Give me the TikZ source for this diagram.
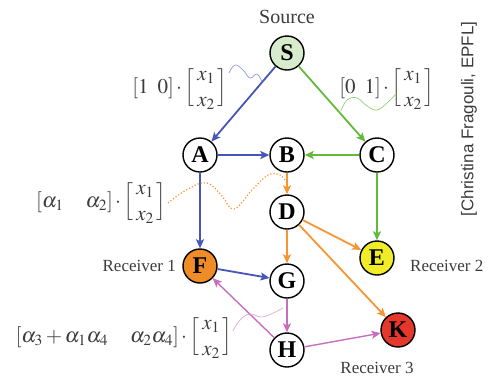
\documentclass[tikz,border=0pt]{standalone}
\usepackage{amsmath}
\usepackage{mathptmx}
\usepackage{fontspec}
\setmainfont{Liberation Serif}
\newfontfamily\sansf{Liberation Sans}
\usetikzlibrary{arrows.meta}
\definecolor{cblue}{RGB}{70,85,185}
\definecolor{cgreen}{RGB}{100,185,60}
\definecolor{corange}{RGB}{245,150,50}
\definecolor{cpink}{RGB}{200,110,190}
\definecolor{cfillS}{RGB}{214,236,204}
\definecolor{cfillF}{RGB}{240,140,40}
\definecolor{cfillE}{RGB}{240,236,40}
\definecolor{cfillK}{RGB}{230,55,45}
\definecolor{ctext}{RGB}{60,60,60}
\delimiterfactor=700
\delimitershortfall=20pt
\newcommand{\xvec}{{\left[\hspace{3pt}\begin{matrix}x_1\\ x_2\end{matrix}\hspace{3pt}\right]}}
\newcommand{\rowv}[1]{{\left[#1\right]}}
\newcommand{\dotop}{\mkern2mu{\cdot}\mkern2mu}
\begin{document}
\begin{tikzpicture}[x=1pt,y=-1pt]
\useasboundingbox (0,0) rectangle (488,376);
\tikzset{
 nd/.style={circle,draw=black,line width=1.4pt,minimum size=34pt,inner sep=0pt,font=\fontsize{24}{24}\selectfont\bfseries,fill=white},
 ed/.style={line width=1.8pt,-{Stealth[length=9pt,width=8pt,inset=2pt]}},
 edthin/.style={line width=1.4pt,-{Stealth[length=9pt,width=8pt,inset=2pt]}},
 lbl/.style={font=\fontsize{17}{17}\selectfont, text=ctext, inner sep=0pt},
 mat/.style={font=\fontsize{21}{26}\selectfont, text=ctext, inner sep=0pt},
 wave/.style={line width=0.7pt},
}
\node[nd,fill=cfillS] (S) at (287,53) {S};
\node[nd] (A) at (200,155) {A};
\node[nd] (B) at (287,155) {B};
\node[nd] (C) at (377,155) {C};
\node[nd] (D) at (287,212) {D};
\node[nd,fill=cfillE] (E) at (377,258) {E};
\node[nd,fill=cfillF] (F) at (200,266) {F};
\node[nd] (G) at (287,281) {G};
\node[nd] (H) at (287,350) {H};
\node[nd,fill=cfillK] (K) at (398,330) {K};

\node[lbl,font=\fontsize{20}{20}\selectfont] (src) at (287,17) {Source};
\node[lbl,anchor=east] (r1) at (176,266) {Receiver 1};
\node[lbl,anchor=west] (r2) at (410,266) {Receiver 2};
\node[lbl] (r3) at (377,368) {Receiver 3};

\node[font=\sansf\fontsize{17}{17}\selectfont, text=ctext, rotate=90, inner sep=0pt] (cr) at (469,119) {[Christina Fragouli, EPFL]};

\node[mat,anchor=east] (m1) at (228,88) {$\rowv{1\hspace{9pt}0}\dotop\xvec$};
\node[mat,anchor=east] (m2) at (435,88) {$\rowv{0\hspace{9pt}1}\dotop\xvec$};
\node[mat,anchor=east] (m3) at (167,202) {$\rowv{\alpha_1\hspace{22pt}\alpha_2}\dotop\xvec$};
\node[mat,anchor=east] (m4) at (233,337) {$\rowv{\alpha_3+\alpha_1\alpha_4\hspace{22pt}\alpha_2\alpha_4}\dotop\xvec$};

% edges
\draw[ed,cblue] (S) -- (A);
\draw[ed,cgreen] (S) -- (C);
\draw[ed,cblue] (A) -- (B);
\draw[ed,cgreen] (C) -- (B);
\draw[ed,cblue] (A) -- (F);
\draw[ed,cgreen] (C) -- (E);
\draw[ed,corange] (B) -- (D);
\draw[ed,corange] (D) -- (G);
\draw[ed,corange] (D) -- (E);
\draw[ed,corange] (D) -- (K);
\draw[ed,cblue] (F) -- (G);
\draw[edthin,cpink] (G) -- (H);
\draw[edthin,cpink] (H) -- (F);
\draw[edthin,cpink] (H) -- (K);

% annotation leaders
\draw[wave,cblue!60] plot[smooth,tension=0.7] coordinates {(229,73) (235,65) (243,70) (250,78) (257,74) (262,82)};
\draw[wave,cgreen!70] plot[smooth,tension=0.7] coordinates {(341,111) (347,100) (357,98) (367,106) (377,110) (387,103) (396,94)};
\draw[corange,line width=1.2pt,dotted] plot[smooth,tension=0.7] coordinates {(168,203) (188,189) (207,183) (222,196) (234,209) (252,190) (268,175) (280,175) (286,182)};
\draw[wave,cpink!60] plot[smooth,tension=0.7] coordinates {(233,331) (240,320) (250,314) (261,317) (271,314) (283,308)};
\end{tikzpicture}
\end{document}
